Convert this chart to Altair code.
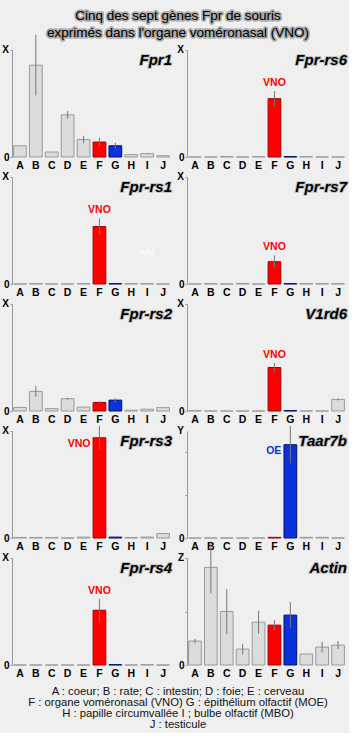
import altair as alt
import pandas as pd

categories = list("ABCDEFGHIJ")
genes = ["Fpr1", "Fpr-rs6", "Fpr-rs1", "Fpr-rs7", "Fpr-rs2", "V1rd6", "Fpr-rs3", "Taar7b", "Fpr-rs4", "Actin"]
axis_top = ["X", "X", "X", "X", "X", "X", "X", "Y", "X", "Z"]
axis_max = [6, 6, 6, 6, 6, 6, 6, 5, 6, 8]

values = {
    "Fpr1":    [0.63, 5.15, 0.28, 2.36, 0.98, 0.84, 0.63, 0.13, 0.19, 0.07],
    "Fpr-rs6": [0, 0, 0.02, 0, 0.02, 3.27, 0.02, 0.02, 0, 0],
    "Fpr-rs1": [0, 0.02, 0, 0, 0.02, 3.22, 0.02, 0.02, 0.02, 0],
    "Fpr-rs7": [0, 0.02, 0, 0.03, 0, 1.25, 0.02, 0.02, 0.02, 0.02],
    "Fpr-rs2": [0.2, 1.1, 0.13, 0.69, 0.22, 0.48, 0.61, 0.04, 0.1, 0.19],
    "V1rd6":   [0.02, 0, 0, 0, 0, 2.44, 0.02, 0, 0, 0.65],
    "Fpr-rs3": [0.03, 0.03, 0.03, 0, 0.05, 5.62, 0.05, 0.03, 0.05, 0.25],
    "Taar7b":  [0, 0, 0, 0, 0, 0.03, 4.36, 0.03, 0.03, 0],
    "Fpr-rs4": [0, 0, 0, 0, 0, 3.07, 0.02, 0, 0.02, 0],
    "Actin":   [1.79, 7.3, 4.0, 1.19, 3.2, 2.98, 3.73, 0.82, 1.34, 1.49],
}
errors = {
    "Fpr1":    [0, 1.7, 0, 0.22, 0.2, 0.24, 0.17, 0, 0.03, 0],
    "Fpr-rs6": [0, 0, 0, 0, 0, 0.43, 0, 0, 0, 0],
    "Fpr-rs1": [0, 0, 0, 0, 0, 0.46, 0, 0, 0, 0],
    "Fpr-rs7": [0, 0, 0, 0, 0, 0.35, 0, 0, 0, 0],
    "Fpr-rs2": [0, 0.3, 0, 0.05, 0, 0.08, 0.1, 0, 0, 0],
    "V1rd6":   [0, 0, 0, 0, 0, 0.26, 0, 0, 0, 0.06],
    "Fpr-rs3": [0, 0, 0, 0, 0, 0.66, 0, 0, 0, 0],
    "Taar7b":  [0, 0, 0, 0, 0, 0, 0.87, 0, 0, 0],
    "Fpr-rs4": [0, 0, 0, 0, 0, 0.64, 0, 0, 0, 0],
    "Actin":   [0.17, 1.95, 1.68, 0.4, 0.86, 0.37, 0.97, 0, 0.4, 0.3],
}
# annotation: (category, label, placement)
annotations = {
    "Fpr-rs6": ("F", "VNO", "above"),
    "Fpr-rs1": ("F", "VNO", "above"),
    "Fpr-rs7": ("F", "VNO", "above"),
    "V1rd6": ("F", "VNO", "above"),
    "Fpr-rs3": ("F", "VNO", "left"),
    "Taar7b": ("G", "OE", "left"),
    "Fpr-rs4": ("F", "VNO", "above"),
}
title_lines = ["Cinq des sept gènes Fpr de souris", "exprimés dans l'organe voméronasal (VNO)"]
legend_lines = [
    "A : coeur; B : rate; C : intestin; D : foie; E : cerveau",
    "F : organe voméronasal (VNO)  G : épithélium olfactif (MOE)",
    "H : papille circumvallée  I ; bulbe olfactif (MBO)",
    "J : testicule",
]
stray_text = ("Fpr-rs1", "I", 1.74, "hfhf")

FILL = {"F": "#ff0000", "G": "#0a32dc"}
STROKE = {"F": "#a00000", "G": "#001070"}
GRAY_FILL = "#dcdcdc"
GRAY_STROKE = "#9a9a9a"
FONT = "Liberation Sans"
W, H = 159, 107


def panel(i):
    gene = genes[i]
    N = axis_max[i]
    top = axis_top[i]
    df = pd.DataFrame({
        "cat": categories,
        "val": values[gene],
        "err": errors[gene],
        "fill": [FILL.get(c, GRAY_FILL) for c in categories],
        "stroke": [STROKE.get(c, GRAY_STROKE) for c in categories],
    })
    xenc = alt.X("cat:N", sort=categories,
                 scale=alt.Scale(paddingInner=0.2, paddingOuter=0.1),
                 axis=alt.Axis(title=None, labelAngle=0, labelFont=FONT, labelFontWeight="bold",
                               labelFontSize=10.5, labelColor="#000", domain=False, ticks=False,
                               labelPadding=3))
    yscale = alt.Scale(domain=[0, N], nice=False, zero=True)
    yaxis = alt.Axis(title=None, values=list(range(N + 1)), grid=False, labelOverlap=False,
                     labelExpr="datum.value == 0 ? '0' : ''",
                     labelFont=FONT, labelFontWeight="bold", labelFontSize=10, labelColor="#000",
                     labelPadding=1, tickSize=2, tickColor="#999", domainColor="#999")
    base = alt.Chart(df)
    bars = base.mark_bar(strokeWidth=1, clip=False).encode(
        x=xenc,
        y=alt.Y("val:Q", scale=yscale, axis=yaxis),
        fill=alt.Fill("fill:N", scale=None),
        stroke=alt.Stroke("stroke:N", scale=None),
    )
    errs = base.transform_filter("datum.err > 0").transform_calculate(
        lo="datum.val - datum.err", hi="datum.val + datum.err"
    ).mark_rule(color="#777", strokeWidth=1, clip=False).encode(
        x=alt.X("cat:N", sort=categories), y=alt.Y("lo:Q"), y2="hi:Q")
    one = base.transform_filter("datum.cat == 'A'")
    ttl_halo = one.mark_text(
        text=gene, font=FONT, fontWeight="bold", fontStyle="italic", fontSize=15,
        align="right", baseline="alphabetic", color="#c4c4c4", stroke="#c4c4c4",
        strokeWidth=2, strokeJoin="round"
    ).encode(x=alt.value(W + 1), y=alt.value(15))
    ttl = one.mark_text(
        text=gene, font=FONT, fontWeight="bold", fontStyle="italic", fontSize=15,
        align="right", baseline="alphabetic", color="#000"
    ).encode(x=alt.value(W + 1), y=alt.value(15))
    letter = one.mark_text(
        text=top, font=FONT, fontWeight="bold", fontSize=10, align="right",
        baseline="middle", color="#000"
    ).encode(x=alt.value(-3), y=alt.datum(N))
    layers = [bars, errs, ttl_halo, ttl, letter]
    if gene in annotations:
        cat, lab, place = annotations[gene]
        col = FILL[cat]
        sub = base.transform_filter(f"datum.cat == '{cat}'").transform_calculate(
            top="datum.val + datum.err")
        if place == "above":
            t = sub.mark_text(text=lab, font=FONT, fontWeight="bold", fontSize=10.5, color=col,
                              align="center", baseline="bottom", dy=-3).encode(
                x=alt.X("cat:N", sort=categories), y="top:Q")
        else:
            t = sub.mark_text(text=lab, font=FONT, fontWeight="bold", fontSize=10.5, color=col,
                              align="right", baseline="middle", dx=-9, dy=6).encode(
                x=alt.X("cat:N", sort=categories), y="val:Q")
        layers.append(t)
    if gene == stray_text[0]:
        layers.append(base.transform_filter(f"datum.cat == '{stray_text[1]}'").mark_text(
            text=stray_text[3], font=FONT, fontSize=9, color="#ffffff", align="center",
            baseline="middle").encode(x=alt.X("cat:N", sort=categories), y=alt.datum(stray_text[2])))
    if i == 0:
        for line, yy in zip(title_lines, [-34, -17]):
            layers.append(one.mark_text(text=line, font=FONT, fontSize=13.5, color="#909090",
                                        stroke="#a0a0a0", strokeWidth=3.5, strokeJoin="round",
                                        strokeOpacity=0.85, align="center", baseline="middle")
                          .encode(x=alt.value(166), y=alt.value(yy)))
            layers.append(one.mark_text(text=line, font=FONT, fontSize=13.5, color="#000",
                                        align="center", baseline="middle")
                          .encode(x=alt.value(166), y=alt.value(yy)))
    if i == 8:
        for line, yy in zip(legend_lines, [134, 145, 156, 167]):
            layers.append(one.mark_text(
                text=line, font=FONT, fontSize=11.3, color="#111", align="center", baseline="middle")
                .encode(x=alt.value(166), y=alt.value(yy)))
    return alt.layer(*layers).properties(width=W, height=H)


chart = alt.concat(*[panel(i) for i in range(len(genes))], columns=2,
                   spacing={"row": 20, "column": 16}, bounds="flush").properties(
    background="#efefef",
    padding={"left": 2, "top": 9, "right": 2, "bottom": 2},
).configure_view(stroke=None)

chart.save("out.html", embed_options={"renderer": "svg", "actions": False})
